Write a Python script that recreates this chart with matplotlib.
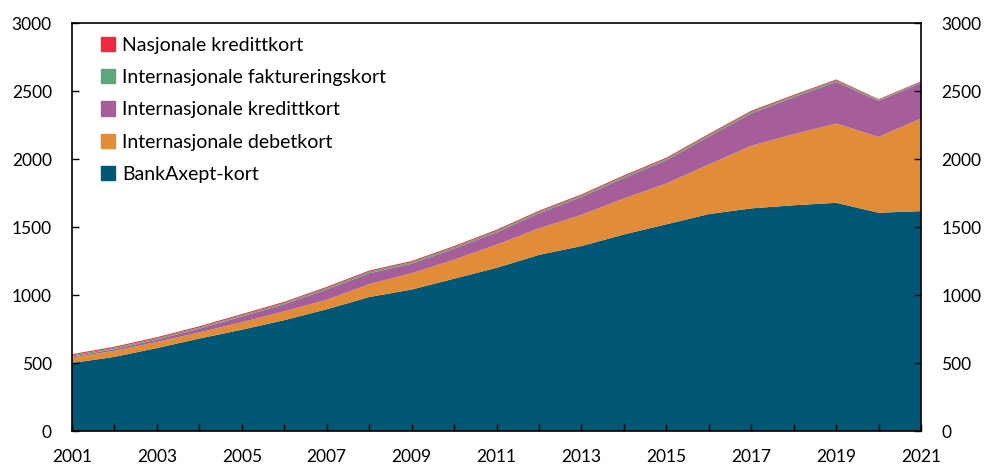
import matplotlib
matplotlib.use("Agg")
import matplotlib.pyplot as plt
from matplotlib.patches import Patch

plt.rcParams['font.family'] = ['Lato', 'DejaVu Sans']

years = list(range(2001, 2022))
bankaxept = [500, 545, 610, 680, 745, 815, 895, 985, 1040, 1120, 1200, 1295, 1360, 1445, 1520, 1595, 1637, 1660, 1678, 1605, 1617]
int_debet = [40, 45, 45, 45, 55, 65, 70, 95, 120, 140, 170, 195, 230, 265, 300, 365, 460, 523, 583, 558, 681]
int_kreditt = [7, 12, 17, 27, 42, 52, 75, 80, 70, 80, 90, 110, 130, 150, 170, 205, 238, 270, 305, 264, 261]
int_faktura = [10, 10, 10, 10, 10, 10, 12, 12, 12, 12, 12, 12, 12, 12, 12, 12, 12, 12, 12, 8, 8]
nasj_kreditt = [8, 8, 8, 8, 8, 8, 8, 8, 8, 8, 8, 8, 8, 8, 8, 8, 8, 7, 7, 5, 5]

labels = ["BankAxept-kort", "Internasjonale debetkort", "Internasjonale kredittkort",
          "Internasjonale faktureringskort", "Nasjonale kredittkort"]
colors = ["#005776", "#E18C37", "#A65E9A", "#5DA77B", "#EE2A3C"]

fig = plt.figure(figsize=(9.85, 4.66), dpi=100)
ax = fig.add_axes([0.0731, 0.0751, 0.862, 0.8755])
ax.stackplot(years, bankaxept, int_debet, int_kreditt, int_faktura, nasj_kreditt,
             colors=colors, labels=labels, linewidth=0)

ax.set_xlim(2001, 2021)
ax.set_ylim(0, 3000)
ax.set_yticks(range(0, 3001, 500))
ax.set_xticks(years, minor=False)
ax.set_xticklabels([str(y) if (y - 2001) % 2 == 0 else "" for y in years])
ax.tick_params(axis='both', direction='in', labelsize=12.5, length=5, width=1)
ax.tick_params(axis='x', pad=13)
ax.tick_params(axis='y', right=True, labelright=True, pad=14.5)
for s in ax.spines.values():
    s.set_linewidth(1.2)

handles = [Patch(color=c) for c in colors][::-1]
leg = ax.legend(handles, labels[::-1], loc='upper left', frameon=False, fontsize=14,
                handlelength=0.75, handleheight=0.75, handletextpad=0.35,
                labelspacing=0.79, borderaxespad=0.3, bbox_to_anchor=(0.018, 1.0))

fig.savefig("out.png", dpi=100)
